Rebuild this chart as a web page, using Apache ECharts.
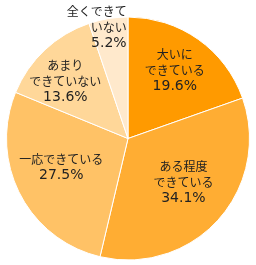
<!DOCTYPE html>
<html>
<head>
<meta charset="utf-8">
<script src="https://cdn.jsdelivr.net/npm/echarts@6/dist/echarts.min.js"></script>
<style>html,body{margin:0;padding:0;background:#fff}#c{width:256px;height:265px}</style>
</head>
<body>
<div id="c"></div>
<script>
var categories = ['大いに\nできている', 'ある程度\nできている', '一応できている', 'あまり\nできていない', '全くできて\nいない'];
var values = [19.6, 34.1, 27.5, 13.6, 5.2];
var colors = ['#FF9A00', '#FFAD33', '#FFC266', '#FFD799', '#FFE9CC'];
var labelShift = [[10, -16], [8, 1], [-10, 0], [-19, -11], [9, -48]];
var labelAlign = ['center', 'center', 'center', 'center', 'right'];

var chart = echarts.init(document.getElementById('c'), null, {renderer: 'canvas'});
chart.setOption({
  animation: false,
  series: [{
    type: 'pie',
    center: [128, 138.5],
    radius: [0, 121.5],
    startAngle: 90,
    clockwise: true,
    avoidLabelOverlap: false,
    data: categories.map(function (n, i) {
      return {name: n, value: values[i], itemStyle: {color: colors[i]}, label: {align: labelAlign[i]}};
    }),
    itemStyle: {borderColor: '#ffffff', borderWidth: 1},
    label: {
      show: true,
      position: 'inner',
      formatter: function (p) {
        return p.name.split('\n').map(function (s) { return '{j|' + s + '}'; }).join('\n') +
          '\n{n|' + p.value.toFixed(1) + '%}';
      },
      fontFamily: '"Noto Sans CJK JP", sans-serif',
      fontSize: 12,
      lineHeight: 16,
      color: '#222',
      rich: {
        j: {fontFamily: '"Noto Sans CJK JP", sans-serif', fontSize: 12, lineHeight: 16, color: '#222'},
        n: {fontFamily: '"DejaVu Sans", sans-serif', fontSize: 14, lineHeight: 16, color: '#222'}
      }
    },
    labelLine: {show: false},
    labelLayout: function (p) {
      return {dx: labelShift[p.dataIndex][0], dy: labelShift[p.dataIndex][1], align: labelAlign[p.dataIndex]};
    },
    emphasis: {disabled: true}
  }]
});
</script>
</body>
</html>
